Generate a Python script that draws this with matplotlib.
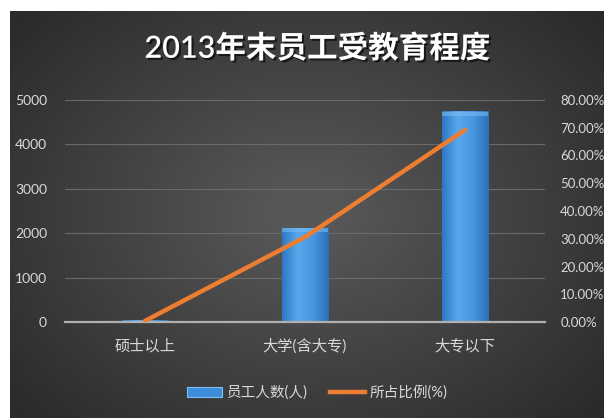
import matplotlib.pyplot as plt
import matplotlib.patheffects as pe
import numpy as np
from matplotlib.lines import Line2D
from matplotlib.patches import Rectangle

plt.rcParams['font.family'] = ['Lato', 'Noto Sans CJK SC', 'DejaVu Sans']

title = '2013年末员工受教育程度'
categories = ['硕士以上', '大学(含大专)', '大专以下']
staff = [25, 2110, 4740]
ratio = [0.4, 30.6, 69.2]
bar_label = '员工人数(人)'
line_label = '所占比例(%)'

txt = '#d9d9d9'
orange = '#ed7d31'

fig = plt.figure(figsize=(6.04, 4.18), dpi=100, facecolor='white')

# dark radial gradient background (chart area inside a thin white margin)
bg = fig.add_axes([10 / 604, 0, 594 / 604, 407 / 418])
bg.set_axis_off()
yy, xx = np.mgrid[-1:1:200j, -1:1:300j]
r = np.sqrt(xx ** 2 + (yy * 0.9) ** 2)
bg.imshow(r, cmap=plt.cm.colors.LinearSegmentedColormap.from_list(
    'bgc', ['#575757', '#2b2b2b']), vmin=0.1, vmax=1.3, aspect='auto',
    extent=[0, 1, 0, 1])
bg.set_xlim(0, 1)
bg.set_ylim(0, 1)

ax = fig.add_axes([65 / 604, (418 - 322) / 418, 480 / 604, 222 / 418])
ax.set_facecolor('none')
x = np.arange(len(categories))
bars = ax.bar(x, staff, width=0.29, color='#3d8ddb', zorder=2)
grad = np.linspace(0, 1, 50).reshape(1, -1)
bcmap = plt.cm.colors.LinearSegmentedColormap.from_list(
    'bar', ['#2f78c4', '#5aa8ec', '#4796e0', '#2c6fb8'])
for b in bars:
    x0, y0 = b.get_x(), b.get_y()
    w, h = b.get_width(), b.get_height()
    if h <= 0:
        continue
    ax.imshow(grad, cmap=bcmap, aspect='auto', zorder=2.1,
              extent=[x0, x0 + w, y0, y0 + h])
    ax.add_patch(Rectangle((x0, y0 + h - min(h, 90)), w, min(h, 90),
                           color='#7cc0f5', alpha=0.55, zorder=2.2, lw=0))
ax.set_xlim(-0.5, 2.5)
ax.set_ylim(0, 5000)
ax.set_yticks(range(0, 5001, 1000))
ax.grid(axis='y', color='#6a6a6a', lw=0.8, zorder=0)
ax.set_axisbelow(True)
for s in ['top', 'right', 'left']:
    ax.spines[s].set_visible(False)
ax.spines['bottom'].set_color('#b0b0b0')
ax.spines['bottom'].set_linewidth(1.6)
ax.tick_params(length=0, colors=txt, labelsize=10)
ax.tick_params(axis='x', pad=12, labelsize=11)
ax.tick_params(axis='y', pad=13)
ax.set_xticks(x)
ax.set_xticklabels(categories)

ax2 = ax.twinx()
ax2.plot(x, ratio, color=orange, lw=3.2, solid_capstyle='round', zorder=3)
ax2.set_ylim(0, 80)
ax2.set_yticks(range(0, 81, 10))
ax2.set_yticklabels([f'{v:.2f}%' for v in range(0, 81, 10)])
for s in ax2.spines.values():
    s.set_visible(False)
ax2.tick_params(length=0, colors=txt, labelsize=9.5, pad=11)
ax2.set_xlim(-0.5, 2.5)

fig.text(0.525, 0.885, title, color='white', fontsize=22, ha='center',
         va='center', fontweight='semibold',
         path_effects=[pe.withSimplePatchShadow(offset=(1.5, -1.5),
                                                shadow_rgbFace='black', alpha=0.6)])

handles = [Rectangle((0, 0), 1, 1, color='#3d8ddb', ec='#7cc0f5', lw=0.8),
           Line2D([0], [0], color=orange, lw=3.2)]
fig.legend(handles, [bar_label, line_label], loc='center',
           bbox_to_anchor=(0.525, 0.06), ncol=2, frameon=False,
           labelcolor=txt, fontsize=10.5, handlelength=2.4,
           columnspacing=1.6, handletextpad=0.3)

fig.savefig('out.png', dpi=100, facecolor='white')
